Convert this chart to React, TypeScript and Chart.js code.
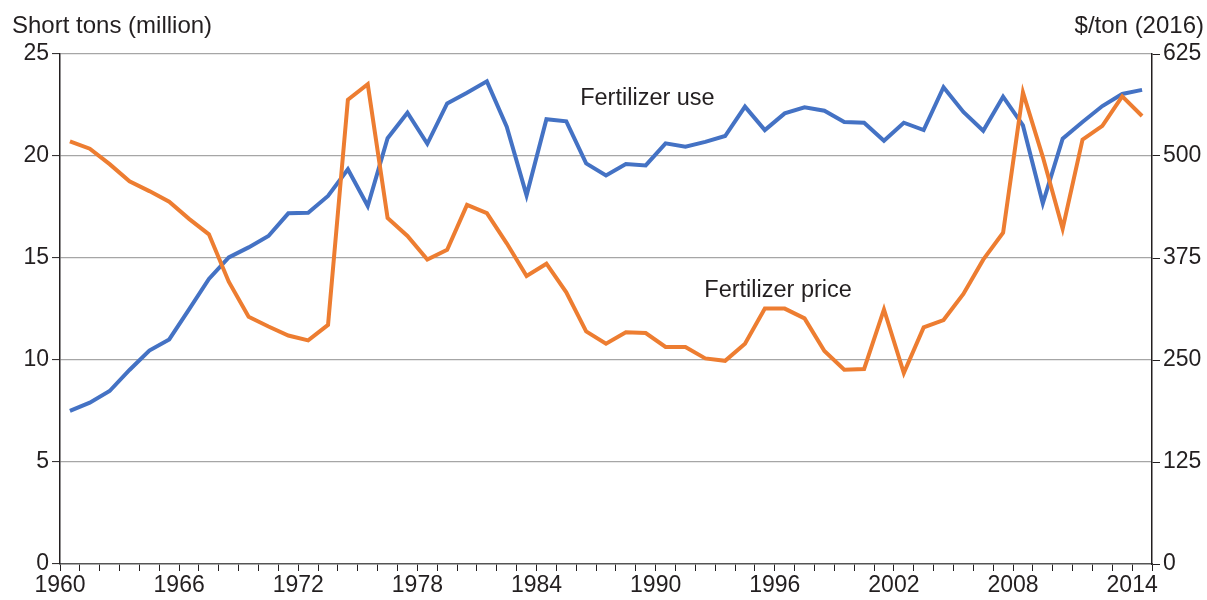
import React, { useEffect, useRef } from "react";
import { Chart, registerables } from "chart.js";

Chart.register(...registerables);

const years: number[] = [];
for (let y = 1960; y <= 2014; y++) years.push(y);

// Fertilizer use, million short tons (left axis)
const fertilizerUse = [
  7.51, 7.91, 8.48, 9.51, 10.46, 11.01, 12.48, 13.97, 15.03, 15.52,
  16.08, 17.19, 17.22, 18.04, 19.35, 17.55, 20.87, 22.12, 20.6, 22.58,
  23.1, 23.66, 21.44, 18.07, 21.8, 21.7, 19.64, 19.05, 19.61, 19.54,
  20.62, 20.46, 20.69, 20.98, 22.42, 21.27, 22.09, 22.39, 22.22, 21.67,
  21.63, 20.75, 21.63, 21.27, 23.37, 22.16, 21.24, 22.91, 21.5, 17.68,
  20.85, 21.67, 22.45, 23.04, 23.24,
];

// Fertilizer price, $/ton (2016) (right axis)
const fertilizerPrice = [
  518, 509, 490, 469, 457, 444, 423, 404, 346, 303,
  291, 280, 274, 293, 569, 588, 424, 402, 373, 385,
  440, 430, 393, 353, 368, 333, 285, 270, 284, 283,
  266, 266, 252, 249, 270, 313, 313, 301, 261, 238,
  239, 312, 234, 290, 299, 331, 373, 406, 578, 499,
  411, 520, 537, 573, 549,
];

const leftTicks = [0, 5, 10, 15, 20, 25];
const rightTicks = [0, 125, 250, 375, 500, 625];
const labelYears = [1960, 1966, 1972, 1978, 1984, 1990, 1996, 2002, 2008, 2014];

const leftTitle = "Short tons (million)";
const rightTitle = "$/ton (2016)";
const useLabel = { text: "Fertilizer use", x: 1986.2, y: 22.84 };
const priceLabel = { text: "Fertilizer price", x: 1992.45, y: 13.43 };

const FONT = "'Liberation Sans', Arial, Helvetica, sans-serif";
const TEXT = "#231f20";
const GRID = "#a6a6a6";
const BLUE = "#4472c4";
const ORANGE = "#ed7d31";

export default function App() {
  const ref = useRef<HTMLCanvasElement | null>(null);

  useEffect(() => {
    if (!ref.current) return;
    const textPlugin = {
      id: "texts",
      afterDraw(chart: any) {
        const ctx = chart.ctx;
        const xs = chart.scales.x;
        const yl = chart.scales.y;
        ctx.save();
        ctx.fillStyle = TEXT;
        ctx.font = `24px ${FONT}`;
        ctx.textBaseline = "middle";
        ctx.textAlign = "left";
        ctx.fillText(leftTitle, 12, 26);
        ctx.textAlign = "right";
        ctx.fillText(rightTitle, 1204, 26);
        ctx.font = `23.5px ${FONT}`;
        ctx.textAlign = "left";
        ctx.fillText(useLabel.text, xs.getPixelForValue(useLabel.x), yl.getPixelForValue(useLabel.y));
        ctx.fillText(priceLabel.text, xs.getPixelForValue(priceLabel.x), yl.getPixelForValue(priceLabel.y));
        ctx.restore();
      },
    };

    const chart = new Chart(ref.current, {
      type: "line",
      data: {
        datasets: [
          {
            label: "Fertilizer price",
            data: years.map((y, i) => ({ x: y + 0.5, y: fertilizerPrice[i] })),
            yAxisID: "y1",
            borderColor: ORANGE,
            borderWidth: 4,
            pointRadius: 0,
            tension: 0,
            order: 0,
          },
          {
            label: "Fertilizer use",
            data: years.map((y, i) => ({ x: y + 0.5, y: fertilizerUse[i] })),
            yAxisID: "y",
            borderColor: BLUE,
            borderWidth: 4,
            pointRadius: 0,
            tension: 0,
            order: 1,
          },
        ],
      },
      options: {
        responsive: false,
        animation: false,
        devicePixelRatio: 1,
        layout: { padding: { top: 54, left: 0, right: 0, bottom: 0 } },
        plugins: { legend: { display: false }, tooltip: { enabled: false } },
        scales: {
          x: {
            type: "linear",
            min: 1960,
            max: 2015,
            afterFit: (s: any) => {
              s.height = 36;
            },
            afterBuildTicks: (s: any) => {
              const t = [];
              for (let v = 1960; v <= 2015; v++) t.push({ value: v });
              s.ticks = t;
            },
            ticks: {
              autoSkip: false,
              maxRotation: 0,
              padding: 1,
              color: TEXT,
              font: { family: FONT, size: 23 },
              callback: (v: any) => (labelYears.includes(Number(v)) ? String(v) : ""),
            },
            grid: {
              drawOnChartArea: false,
              tickLength: 7,
              tickColor: TEXT,
              tickWidth: 1,
            },
            border: { color: "#555555", width: 1.5 },
          },
          y: {
            position: "left",
            min: 0,
            max: 25,
            afterFit: (s: any) => {
              s.width = 60;
            },
            afterBuildTicks: (s: any) => {
              s.ticks = leftTicks.map((v) => ({ value: v }));
            },
            ticks: {
              padding: 3,
              color: TEXT,
              font: { family: FONT, size: 23 },
            },
            grid: {
              color: (c: any) => (c.tick && c.tick.value === 0 ? "rgba(0,0,0,0)" : GRID),
              lineWidth: 1.2,
              tickLength: 8,
              tickColor: TEXT,
              tickWidth: 1,
            },
            border: { color: TEXT, width: 1.5 },
          },
          y1: {
            position: "right",
            min: 0,
            max: 625,
            afterFit: (s: any) => {
              s.width = 55;
            },
            afterBuildTicks: (s: any) => {
              s.ticks = rightTicks.map((v) => ({ value: v }));
            },
            ticks: {
              padding: 3,
              color: TEXT,
              font: { family: FONT, size: 23 },
            },
            grid: {
              drawOnChartArea: false,
              tickLength: 8,
              tickColor: TEXT,
              tickWidth: 1,
            },
            border: { color: TEXT, width: 1.5 },
          },
        },
      },
      plugins: [textPlugin],
    } as any);
    return () => chart.destroy();
  }, []);

  return (
    <div style={{ position: "fixed", left: 0, top: 0, width: 1207, height: 600, background: "#fff" }}>
      <canvas ref={ref} width={1207} height={600} style={{ display: "block", width: 1207, height: 600 }} />
    </div>
  );
}
